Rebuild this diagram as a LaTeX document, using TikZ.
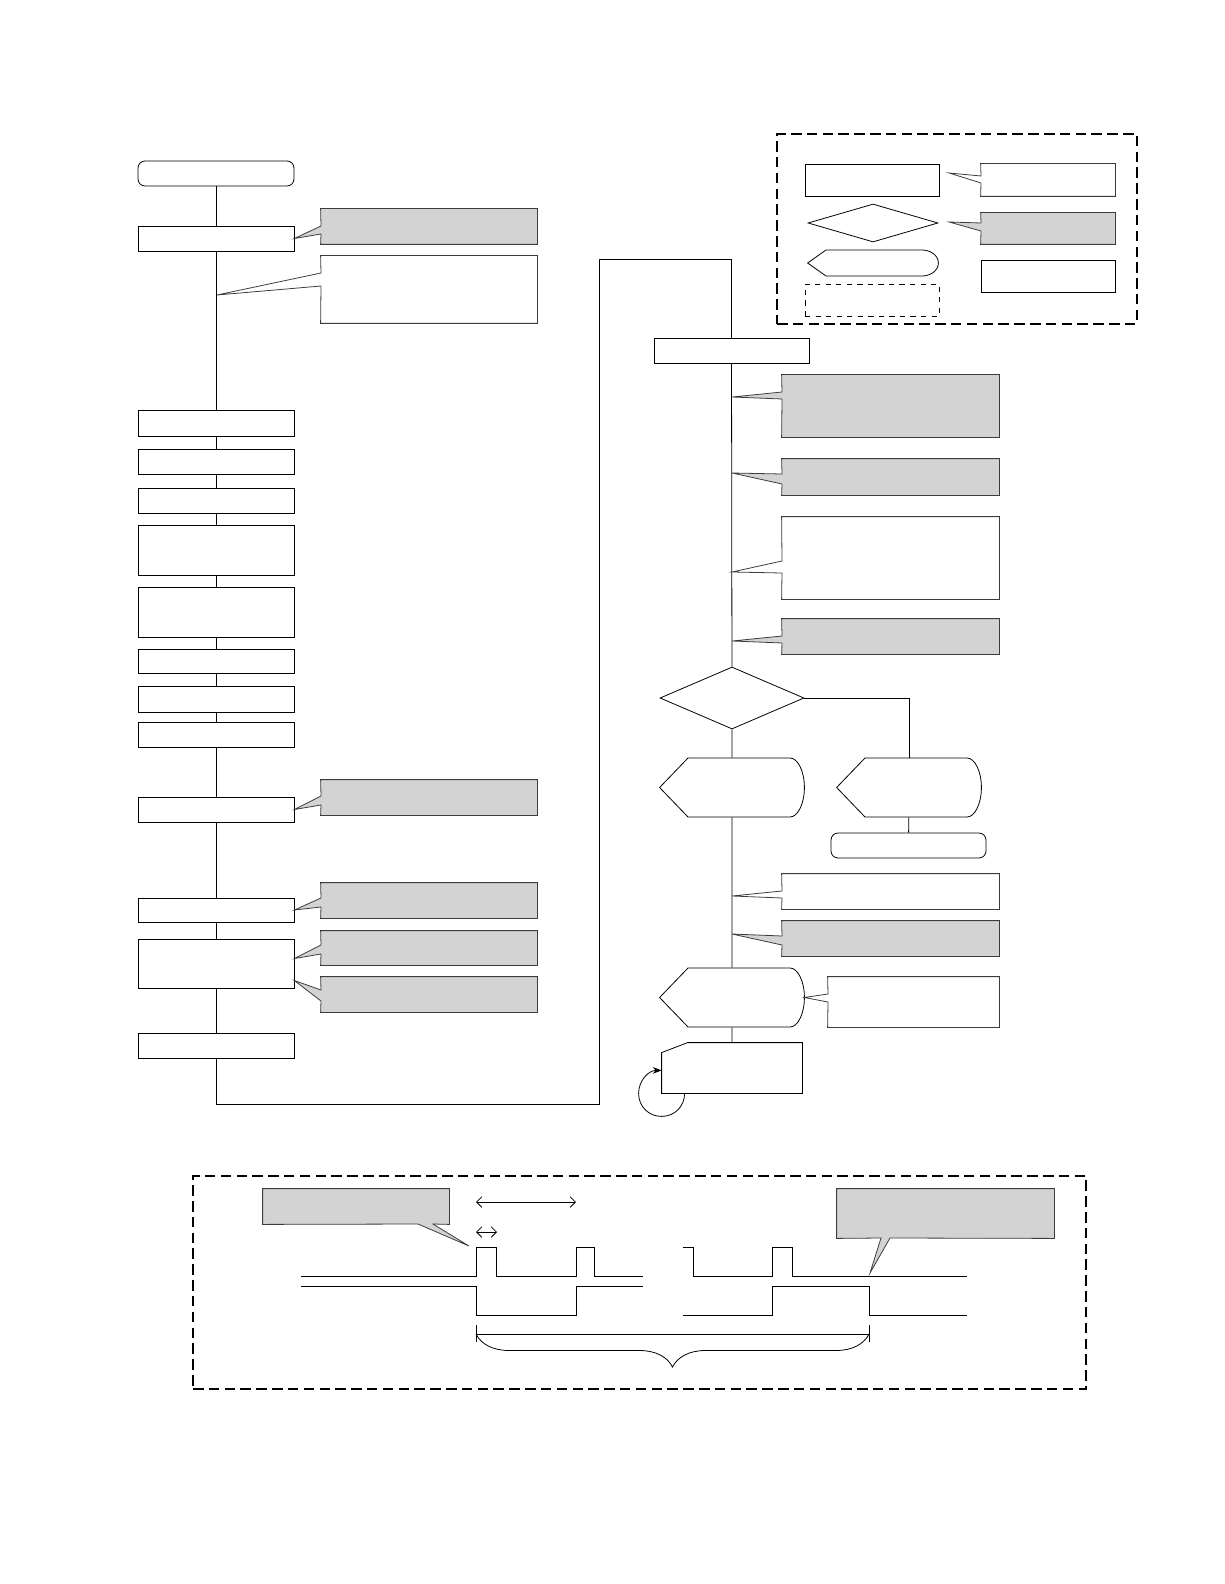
\documentclass[tikz,border=0pt]{standalone}
\usepackage{tikz}
\usetikzlibrary{positioning, fit, calc, arrows.meta, shapes.geometric, decorations.pathreplacing}

\definecolor{calloutgray}{RGB}{211,211,211}
\definecolor{calloutline}{RGB}{60,60,60}

% callout: style, name, x1, y1, x2, y2, tip, pointer top, pointer bottom
\newcommand{\callout}[9]{%
  \node[fit={(#3,#4) (#5,#6)}, inner sep=0pt] (#2) {};
  \draw[#1] (#2.north west) -- (#2.north east) -- (#2.south east) -- (#2.south west)
    -- (#3,#9) -- (#7) -- (#3,#8) -- cycle;}

% display shape: name, x1, y1, x2, y2, point depth, bulge depth
\newcommand{\dispshape}[7]{%
  \node[fit={(#2,#3) (#4,#5)}, inner sep=0pt] (#1) {};
  \draw[flow] (#1.west) -- (#2+#6,#3) -- (#4-#7,#3)
    .. controls (#4-0.45*#7,#3) and ($(#1.east)!0.55!(#1.north east)$) .. (#1.east)
    .. controls ($(#1.east)!0.55!(#1.south east)$) and (#4-0.45*#7,#5) .. (#4-#7,#5)
    -- (#2+#6,#5) -- cycle;}

\begin{document}
\begin{tikzpicture}[
            x=0.02cm, y=-0.02cm,
            line width=0.45pt,
            >=Stealth,
            flow/.style={draw, line width=0.45pt},
            box/.style={draw, inner sep=0pt, line width=0.45pt},
            terminal/.style={box, rounded corners=4pt},
            grayNote/.style={fill=calloutgray, draw=calloutline, line width=0.45pt},
            whiteNote/.style={fill=white, draw=calloutline, line width=0.45pt},
            frame/.style={draw, line width=1.1pt, dash pattern=on 6pt off 3pt}
        ]
        \useasboundingbox (0,0) rectangle (1224,1584);

        % --- Columna izquierda ---
        \node[terminal, fit={(138,161) (294,186)}] (start) {};
        \node[box, fit={(138,226) (294,251)}] (b1) {};
        \node[box, fit={(138,410) (294,436)}] (b2) {};
        \node[box, fit={(138,449) (294,474)}] (b3) {};
        \node[box, fit={(138,488) (294,513)}] (b4) {};
        \node[box, fit={(138,525) (294,575)}] (b5) {};
        \node[box, fit={(138,587) (294,637)}] (b6) {};
        \node[box, fit={(138,649) (294,673)}] (b7) {};
        \node[box, fit={(138,686) (294,712)}] (b8) {};
        \node[box, fit={(138,722) (294,747)}] (b9) {};
        \node[box, fit={(138,797) (294,822)}] (b10) {};
        \node[box, fit={(138,898) (294,922)}] (b11) {};
        \node[box, fit={(138,939) (294,988)}] (b12) {};
        \node[box, fit={(138,1033) (294,1058)}] (b13) {};

        \draw (start) -- (b1) -- (b2) -- (b3) -- (b4) -- (b5) -- (b6) -- (b7) -- (b8) -- (b9) -- (b10) -- (b11) -- (b12) -- (b13);
        \coordinate (tapLeft) at (217,295);

        \callout{grayNote}{noteA}{321}{209}{537}{244}{b1.east}{226}{234}
        \callout{whiteNote}{noteB}{321}{256}{537}{323}{tapLeft}{273}{286}
        \callout{grayNote}{noteC}{321}{780}{537}{815}{b10.east}{796}{805}
        \callout{grayNote}{noteD}{321}{883}{537}{918}{b11.east}{898}{907}
        \callout{grayNote}{noteE}{321}{931}{537}{965}{$(b12.east)+(0,-5)$}{945}{954}
        \callout{grayNote}{noteF}{321}{977}{537}{1012}{$(b12.east)+(0,17)$}{990}{1001}

        % --- Enlace entre columnas ---
        \coordinate (linkLow) at (599,1104);
        \coordinate (linkHigh) at (599,259);
        \node[box, fit={(654,338) (809,363)}] (r1) {};
        \draw (b13.south) |- (linkLow) -- (linkHigh) -| (r1.north);

        % --- Columna derecha ---
        \node[diamond, draw, inner sep=0pt, minimum width=2.88cm, minimum height=1.24cm] (dia) at (732,698) {};
        \dispshape{disp1}{660}{758}{804}{817}{28}{14}
        \dispshape{disp2}{837}{758}{981}{817}{28}{14}
        \node[terminal, fit={(831,833) (986,858)}] (end2) {};
        \dispshape{disp3}{660}{968}{804}{1027}{28}{14}
        \node[fit={(662,1043) (802,1093)}, inner sep=0pt] (card) {};
        \draw[flow] ($(card.north west)+(0,10)$) -- ($(card.north west)+(26,0)$) -- (card.north east) -- (card.south east) -- (card.south west) -- cycle;

        \draw (r1) -- (dia) -- (disp1) -- (disp3) -- (card);
        \draw (dia.east) -| (disp2.north);
        \draw (disp2) -- (end2);
        \draw[->] ($(card.south west)+(23,0)$) .. controls ($(card.south west)+(23,13)$) and ($(card.south west)+(13,23)$) .. ($(card.south west)+(0,23)$)
            .. controls ($(card.south west)+(-13,23)$) and ($(card.south west)+(-23,13)$) .. ($(card.south west)+(-23,0)$)
            .. controls ($(card.south west)+(-23,-13)$) and ($(card.south west)+(-13,-23)$) .. ($(card.south west)+(0,-23)$);

        \coordinate (tapG) at (732,397);
        \coordinate (tapH) at (732,473);
        \coordinate (tapI) at (732,572);
        \coordinate (tapJ) at (732,641);
        \coordinate (tapK) at (732,896);
        \coordinate (tapL) at (732,934);
        \callout{grayNote}{noteG}{782}{375}{999}{437}{tapG}{392}{399}
        \callout{grayNote}{noteH}{782}{459}{999}{495}{tapH}{474}{484}
        \callout{whiteNote}{noteI}{782}{517}{999}{599}{tapI}{561}{573}
        \callout{grayNote}{noteJ}{782}{619}{999}{654}{tapJ}{636}{643}
        \callout{whiteNote}{noteK}{782}{874}{999}{909}{tapK}{891}{898}
        \callout{grayNote}{noteL}{782}{921}{999}{956}{tapL}{936}{945}
        \callout{whiteNote}{noteM}{828}{977}{999}{1027}{disp3.east}{994}{1002}

        % --- Leyenda ---
        \node[frame, fit={(777,134) (1137,324)}, inner sep=0pt] (legend) {};
        \node[box, fit={(805,164) (939,196)}] (legRect) {};
        \node[diamond, draw, inner sep=0pt, minimum width=2.6cm, minimum height=0.76cm] (legDia) at (873,223) {};
        \dispshape{legDisp}{808}{250}{938}{276}{18}{16}
        \node[box, dashed, line width=0.4pt, fit={(805,284) (939,316)}] (legDash) {};
        \coordinate (legTipA) at (949,173);
        \coordinate (legTipB) at (949,222);
        \callout{whiteNote}{legNoteA}{981}{164}{1115}{196}{legTipA}{176}{183}
        \callout{grayNote}{legNoteB}{981}{213}{1115}{244}{legTipB}{223}{231}
        \node[box, fit={(981,260) (1115,292)}] (legBox) {};

        % --- Diagrama de tiempos ---
        \node[frame, fit={(193,1176) (1086,1389)}, inner sep=0pt] (timing) {};
        \node[fit={(263,1189) (449,1224)}, inner sep=0pt] (tNoteL) {};
        \draw[grayNote] (tNoteL.north west) -- (tNoteL.north east) -- (tNoteL.south east) -- (433,1224) -- (469,1246) -- (418,1224) -- (tNoteL.south west) -- cycle;
        \node[fit={(837,1189) (1054,1238)}, inner sep=0pt] (tNoteR) {};
        \draw[grayNote] (tNoteR.north west) -- (tNoteR.north east) -- (tNoteR.south east) -- (890,1238) -- (870,1273) -- (881,1238) -- (tNoteR.south west) -- cycle;

        \draw[{Straight Barb[length=3pt]}-{Straight Barb[length=3pt]}] (476,1202) -- (576,1202);
        \draw[{Straight Barb[length=3pt]}-{Straight Barb[length=3pt]}] (476,1232) -- (497,1232);

        \draw (301,1276) -- (476,1276) -- (476,1247) -- (496,1247) -- (496,1276) -- (576,1276) -- (576,1247) -- (594,1247) -- (594,1276) -- (643,1276);
        \draw (683,1247) -- (693,1247) -- (693,1276) -- (772,1276) -- (772,1247) -- (792,1247) -- (792,1276) -- (967,1276);
        \draw (301,1286) -- (476,1286) -- (476,1315) -- (576,1315) -- (576,1286) -- (643,1286);
        \draw (683,1315) -- (772,1315) -- (772,1286) -- (869,1286) -- (869,1315) -- (967,1315);

        \draw (476,1325) -- (476,1342);
        \draw (869,1325) -- (869,1342);
        \draw (476,1334) -- (869,1334);
        \draw[decorate, decoration={brace, mirror, amplitude=0.66cm}] (476,1334) -- (869,1334);

        \end{tikzpicture}
\end{document}
